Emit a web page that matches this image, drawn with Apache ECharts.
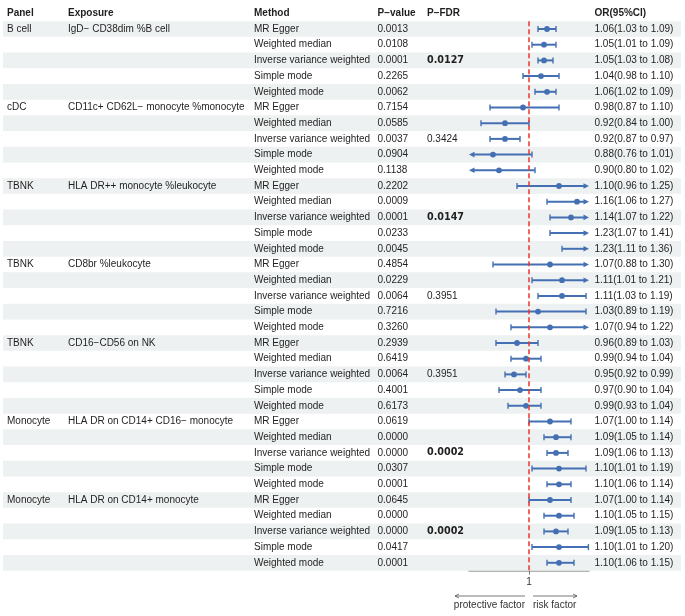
<!DOCTYPE html>
<html>
<head>
<meta charset="utf-8">
<script src="https://cdn.jsdelivr.net/npm/echarts@6/dist/echarts.min.js"></script>
<style>
  html, body { margin: 0; padding: 0; background: #fff; }
  #main { width: 685px; height: 616px; }
</style>
</head>
<body>
<div id="main"></div>
<script>
// table data, one entry per exposure block
const panels = ['B cell', 'cDC', 'TBNK', 'TBNK', 'TBNK', 'Monocyte', 'Monocyte'];
const exposures = [
  'IgD\u2212 CD38dim %B cell',
  'CD11c+ CD62L\u2212 monocyte %monocyte',
  'HLA DR++ monocyte %leukocyte',
  'CD8br %leukocyte',
  'CD16\u2212CD56 on NK',
  'HLA DR on CD14+ CD16\u2212 monocyte',
  'HLA DR on CD14+ monocyte'
];
const methods = ['MR Egger', 'Weighted median', 'Inverse variance weighted', 'Simple mode', 'Weighted mode'];

// one entry per row (7 exposures x 5 methods)
const pValues = [
  0.0013, 0.0108, 0.0001, 0.2265, 0.0062,
  0.7154, 0.0585, 0.0037, 0.0904, 0.1138,
  0.2202, 0.0009, 0.0001, 0.0233, 0.0045,
  0.4854, 0.0229, 0.0064, 0.7216, 0.3260,
  0.2939, 0.6419, 0.0064, 0.4001, 0.6173,
  0.0619, 0.0000, 0.0000, 0.0307, 0.0001,
  0.0645, 0.0000, 0.0000, 0.0417, 0.0001
];
const pFdr = [
  null, null, 0.0127, null, null,
  null, null, 0.3424, null, null,
  null, null, 0.0147, null, null,
  null, null, 0.3951, null, null,
  null, null, 0.3951, null, null,
  null, null, 0.0002, null, null,
  null, null, 0.0002, null, null
];
const orValues = [
  1.06, 1.05, 1.05, 1.04, 1.06,
  0.98, 0.92, 0.92, 0.88, 0.90,
  1.10, 1.16, 1.14, 1.23, 1.23,
  1.07, 1.11, 1.11, 1.03, 1.07,
  0.96, 0.99, 0.95, 0.97, 0.99,
  1.07, 1.09, 1.09, 1.10, 1.10,
  1.07, 1.10, 1.09, 1.10, 1.10
];
const ciLow = [
  1.03, 1.01, 1.03, 0.98, 1.02,
  0.87, 0.84, 0.87, 0.76, 0.798,
  0.96, 1.06, 1.07, 1.07, 1.11,
  0.88, 1.01, 1.03, 0.89, 0.94,
  0.89, 0.94, 0.92, 0.90, 0.93,
  1.00, 1.05, 1.06, 1.01, 1.06,
  1.00, 1.05, 1.05, 1.01, 1.06
];
const ciHigh = [
  1.09, 1.09, 1.08, 1.10, 1.09,
  1.10, 1.00, 0.97, 1.01, 1.02,
  1.25, 1.27, 1.22, 1.41, 1.36,
  1.30, 1.21, 1.19, 1.19, 1.22,
  1.03, 1.04, 0.99, 1.04, 1.04,
  1.14, 1.14, 1.13, 1.19, 1.14,
  1.14, 1.15, 1.13, 1.198, 1.15
];
const headers = ['Panel', 'Exposure', 'Method', 'P\u2212value', 'P\u2212FDR', 'OR(95%CI)'];

// layout
const colX = [7, 68, 254, 377.5, 427, 594.5];
const xMin = 0.8, xMax = 1.2;
const nRows = methods.length * panels.length;
const blue = '#4470B3';
const textColor = '#1f1f1f';
const fontFamily = '"Liberation Sans", Arial, Helvetica, sans-serif';

// build text cells: row 0 is the header
const cells = [];
headers.forEach((h, c) => cells.push([colX[c], 0, h, 1]));
for (let i = 0; i < nRows; i++) {
  const b = Math.floor(i / methods.length);
  const m = i % methods.length;
  const r = i + 1;
  if (m === 0) {
    cells.push([colX[0], r, panels[b], 0]);
    cells.push([colX[1], r, exposures[b], 0]);
  }
  cells.push([colX[2], r, methods[m], 0]);
  cells.push([colX[3], r, pValues[i].toFixed(4), 0]);
  if (pFdr[i] !== null) {
    cells.push([colX[4], r, pFdr[i].toFixed(4), pFdr[i] < 0.05 ? 2 : 0]);
  }
  cells.push([colX[5], r, orValues[i].toFixed(2) + '(' + ciLow[i].toFixed(2) + ' to ' + ciHigh[i].toFixed(2) + ')', 0]);
}

const stripes = [];
for (let i = 0; i < nRows; i += 2) stripes.push([i + 1]);

const forest = [];
for (let i = 0; i < nRows; i++) forest.push([i, orValues[i], ciLow[i], ciHigh[i]]);

const rowCats = [];
for (let i = 0; i <= nRows; i++) rowCats.push(String(i));
const forestCats = rowCats.slice(1).map((d, i) => String(i));

const rowH = 15.7;
const firstRowY = 29;

let myChart = echarts.init(document.getElementById('main'));

const options = {
  animation: false,
  grid: [
    { left: 0, right: 0, top: firstRowY - rowH * 1.5, height: rowH * (nRows + 1) },
    { left: 469, width: 120, top: firstRowY - rowH / 2, height: rowH * nRows }
  ],
  xAxis: [
    { gridIndex: 0, type: 'value', min: 0, max: 685, show: false },
    {
      gridIndex: 1, type: 'value', min: xMin, max: xMax,
      axisLine: { show: true, lineStyle: { color: '#9a9a9a', width: 1.5 } },
      axisTick: { show: true, customValues: [1], length: 4, lineStyle: { color: '#777' } },
      axisLabel: { customValues: [1], formatter: v => String(v), color: '#333', fontSize: 10, margin: 7, fontFamily: fontFamily },
      splitLine: { show: false }
    }
  ],
  yAxis: [
    { gridIndex: 0, type: 'category', data: rowCats, inverse: true, show: false },
    { gridIndex: 1, type: 'category', data: forestCats, inverse: true, show: false }
  ],
  series: [
    {
      type: 'custom',
      xAxisIndex: 0, yAxisIndex: 0,
      data: stripes,
      silent: true,
      renderItem: function (params, api) {
        const row = api.value(0);
        const p0 = api.coord([3, row]);
        const p1 = api.coord([681, row]);
        const h = api.size([0, 1])[1];
        return {
          type: 'rect',
          shape: { x: p0[0], y: p0[1] - h / 2, width: p1[0] - p0[0], height: h },
          style: { fill: '#EEF1F1' }
        };
      }
    },
    {
      type: 'custom',
      xAxisIndex: 0, yAxisIndex: 0,
      data: cells,
      silent: true,
      renderItem: function (params, api) {
        const pt = api.coord([api.value(0), api.value(1)]);
        const item = cells[params.dataIndex];
        const kind = item[3];
        return {
          type: 'text',
          x: pt[0], y: pt[1],
          style: {
            text: item[2],
            fill: textColor,
            align: 'left',
            verticalAlign: 'middle',
            font: kind === 2 ? 'bold 9.6px "DejaVu Sans", sans-serif'
                 : (kind === 1 ? 'bold 10px ' + fontFamily : '10px ' + fontFamily)
          }
        };
      }
    },
    {
      type: 'custom',
      xAxisIndex: 1, yAxisIndex: 1,
      data: forest,
      silent: true,
      renderItem: function (params, api) {
        const row = api.value(0);
        const est = api.value(1);
        const lo = api.value(2);
        const hi = api.value(3);
        const a = api.coord([Math.max(lo, xMin), row]);
        const b = api.coord([Math.min(hi, xMax), row]);
        const y = a[1];
        const kids = [];
        const cutL = lo < xMin, cutR = hi > xMax;
        const ax = cutL ? a[0] + 4 : a[0];
        const bx = cutR ? b[0] - 4 : b[0];
        kids.push({ type: 'line', shape: { x1: ax, y1: y, x2: bx, y2: y }, style: { stroke: blue, lineWidth: 2 } });
        if (cutL) {
          kids.push({ type: 'polygon', shape: { points: [[a[0], y], [a[0] + 5.5, y - 2.8], [a[0] + 5.5, y + 2.8]] }, style: { fill: blue } });
        } else {
          kids.push({ type: 'line', shape: { x1: a[0], y1: y - 3, x2: a[0], y2: y + 3 }, style: { stroke: blue, lineWidth: 1.4 } });
        }
        if (cutR) {
          kids.push({ type: 'polygon', shape: { points: [[b[0], y], [b[0] - 5.5, y - 2.8], [b[0] - 5.5, y + 2.8]] }, style: { fill: blue } });
        } else {
          kids.push({ type: 'line', shape: { x1: b[0], y1: y - 3, x2: b[0], y2: y + 3 }, style: { stroke: blue, lineWidth: 1.4 } });
        }
        if (est >= xMin && est <= xMax) {
          const c = api.coord([est, row]);
          kids.push({ type: 'circle', shape: { cx: c[0], cy: c[1], r: 2.9 }, style: { fill: blue } });
        }
        return { type: 'group', children: kids };
      },
      markLine: {
        silent: true,
        symbol: 'none',
        label: { show: false },
        emphasis: { disabled: true },
        lineStyle: { color: '#E8372C', type: [5, 3], width: 1.5, opacity: 1 },
        data: [{ xAxis: 1 }]
      }
    }
  ]
};

myChart.setOption(options);

// direction hints under the axis
const x1 = myChart.convertToPixel({ xAxisIndex: 1 }, 1);
const arrowY = 596;
const arrowHead = (x, dir) => ({
  type: 'polyline',
  shape: { points: [[x + dir * 4, arrowY - 2], [x, arrowY], [x + dir * 4, arrowY + 2]] },
  style: { stroke: '#555', fill: null, lineWidth: 0.8 }
});
myChart.setOption({
  graphic: [
    { type: 'line', shape: { x1: x1 - 74, y1: arrowY, x2: x1 - 4, y2: arrowY }, style: { stroke: '#555', lineWidth: 0.8 } },
    arrowHead(x1 - 74, 1),
    { type: 'line', shape: { x1: x1 + 4, y1: arrowY, x2: x1 + 48, y2: arrowY }, style: { stroke: '#555', lineWidth: 0.8 } },
    arrowHead(x1 + 48, -1),
    { type: 'text', x: x1 - 4, y: 605, style: { text: 'protective factor', align: 'right', verticalAlign: 'middle', fill: '#333', font: '10px ' + fontFamily } },
    { type: 'text', x: x1 + 4, y: 605, style: { text: 'risk factor', align: 'left', verticalAlign: 'middle', fill: '#333', font: '10px ' + fontFamily } }
  ]
});
</script>
</body>
</html>
